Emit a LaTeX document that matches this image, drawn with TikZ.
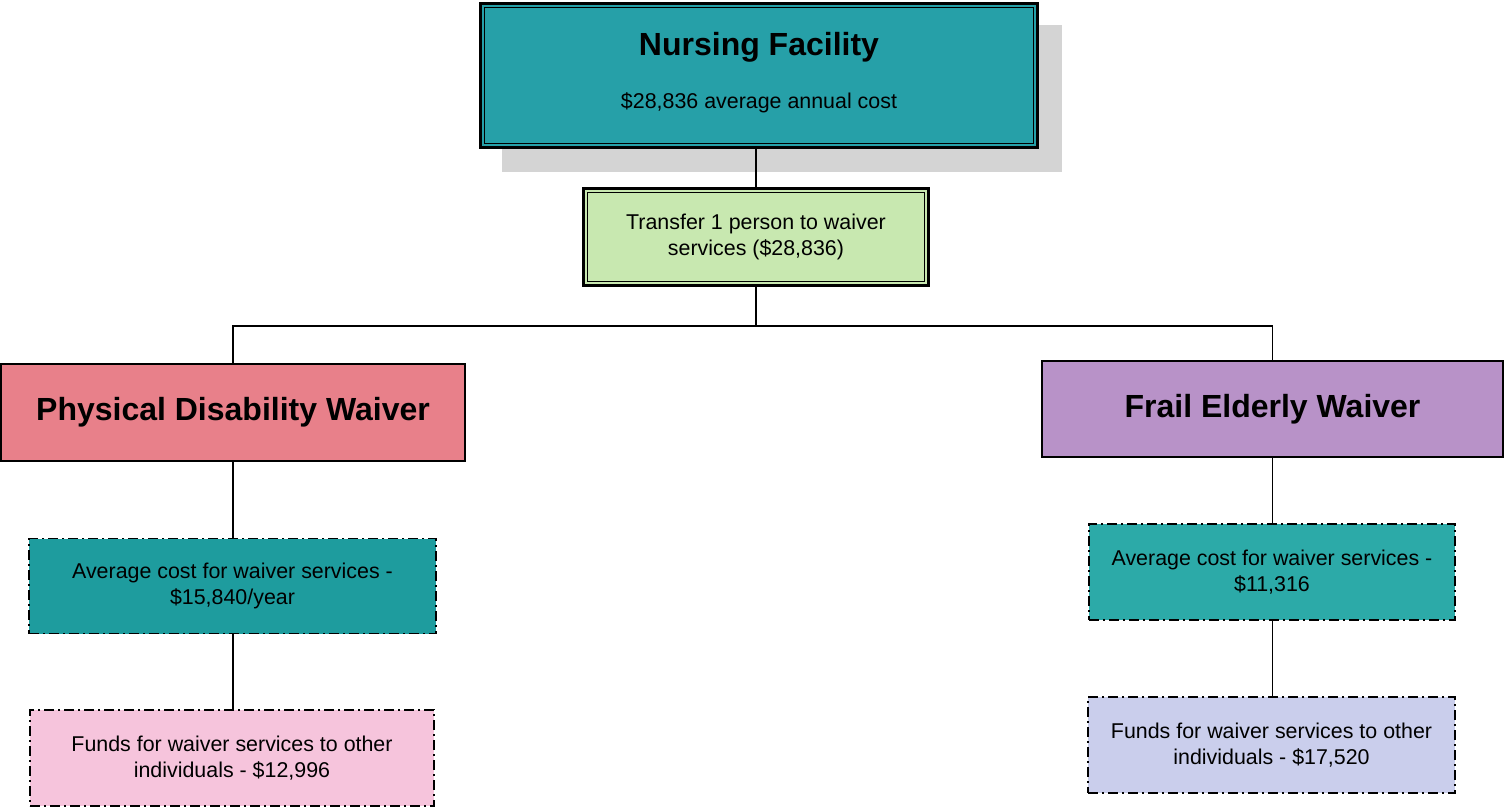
\documentclass[tikz,border=0pt]{standalone}
\usepackage{fontspec}
\setmainfont{Liberation Sans}
\definecolor{nfteal}{RGB}{38,160,168}
\definecolor{shadowgray}{RGB}{212,212,212}
\definecolor{transgreen}{RGB}{200,232,176}
\definecolor{pdwred}{RGB}{232,128,138}
\definecolor{fewpurple}{RGB}{184,146,200}
\definecolor{avgteal}{RGB}{30,156,158}
\definecolor{avgteal2}{RGB}{44,170,168}
\definecolor{fundpink}{RGB}{246,196,220}
\definecolor{fundblue}{RGB}{202,206,236}
\tikzset{
  boxbase/.style={draw=black, line width=1.8pt, rectangle, inner sep=0pt, align=center},
  bigtext/.style={font=\fontsize{32}{38}\selectfont\bfseries},
  smalltext/.style={font=\fontsize{21.4}{26.5}\selectfont},
  dashdotbox/.style={boxbase, line width=1.8pt, dash pattern=on 10pt off 4pt on 2pt off 4pt},
  conn/.style={draw=black, line width=1.8pt}
}
\begin{document}
\begin{tikzpicture}[x=1pt,y=-1pt]
\useasboundingbox (0,0) rectangle (1505,808);
% shadow
\fill[shadowgray] (502,25) rectangle (1062,172);
% Nursing Facility
\node[boxbase, fill=nfteal, line width=2.6pt, minimum width=557pt, minimum height=144pt] (nf) at (759,75.5) {};
\draw[line width=1pt] ([shift={(5pt,-5pt)}]nf.north west) rectangle ([shift={(-5pt,5pt)}]nf.south east);
\node[bigtext] (nftitle) at (759,47) {Nursing Facility};
\node[smalltext] (nfsub) at (759,103) {\$28,836 average annual cost};
% Transfer
\node[boxbase, fill=transgreen, line width=2.4pt, minimum width=345pt, minimum height=97pt, smalltext] (tr) at (756,237) {Transfer 1 person to waiver\\services (\$28,836)};
\draw[line width=1pt] ([shift={(5pt,-5pt)}]tr.north west) rectangle ([shift={(-5pt,5pt)}]tr.south east);
% waivers
\node[boxbase, fill=pdwred, minimum width=464pt, minimum height=97pt, bigtext] (pdw) at (233,412.5) {Physical Disability Waiver};
\node[boxbase, fill=fewpurple, minimum width=461pt, minimum height=96pt, bigtext] (few) at (1272.5,409) {Frail Elderly Waiver};
% PD children
\node[dashdotbox, fill=avgteal, minimum width=407pt, minimum height=95pt, smalltext] (pdavg) at (232.5,586) {Average cost for waiver services -\\\$15,840/year};
\node[dashdotbox, fill=fundpink, minimum width=404pt, minimum height=96pt, smalltext] (pdfund) at (232,758) {Funds for waiver services to other\\individuals - \$12,996};
% FE children
\node[dashdotbox, fill=avgteal2, minimum width=366pt, minimum height=96pt, smalltext] (feavg) at (1272,572) {Average cost for waiver services -\\\$11,316};
\node[dashdotbox, fill=fundblue, minimum width=367pt, minimum height=96pt, smalltext] (fefund) at (1271.5,745) {Funds for waiver services to other\\individuals - \$17,520};
% connectors
\coordinate (junc) at (756,326);
\draw[conn] (nf.south -| tr.north) -- (tr.north);
\draw[conn] (tr.south) -- (junc);
\draw[conn] (pdw.north) |- (junc) -| (few.north);
\draw[conn] (pdw.south) -- (pdavg.north -| pdw.south);
\draw[conn] (pdavg.south -| pdw.south) -- (pdfund.north -| pdw.south);
\draw[conn] (few.south) -- (feavg.north -| few.south);
\draw[conn] (feavg.south -| few.south) -- (fefund.north -| few.south);
\end{tikzpicture}
\end{document}
